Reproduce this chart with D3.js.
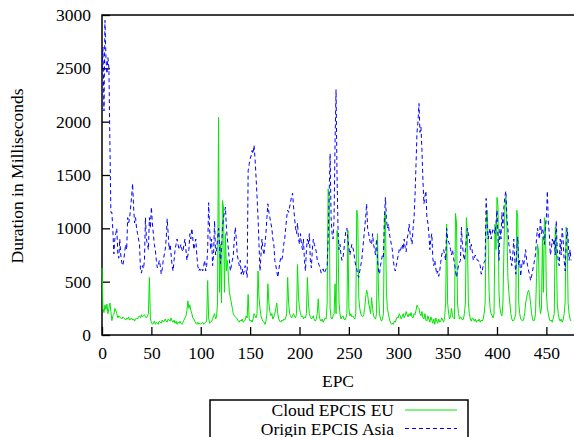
<!DOCTYPE html>
<html>
<head>
<meta charset="utf-8">
<script src="https://cdn.jsdelivr.net/npm/d3@7/dist/d3.min.js"></script>
<style>
  html, body { margin: 0; padding: 0; background: #fff; }
  #chartView { width: 574px; height: 437px; }
</style>
</head>
<body>
<div id="chartView"></div>
<script>
// Duration per EPC, milliseconds (index = EPC number)
var seriesNames = ['Cloud EPCIS EU', 'Origin EPCIS Asia'];
var xTicks = [0, 50, 100, 150, 200, 250, 300, 350, 400, 450];
var yTicks = [0, 500, 1000, 1500, 2000, 2500, 3000];

var cloudEU = [
  630, 250, 210, 280, 240, 290, 200, 250, 300, 220,
  135, 180, 190, 250, 230, 200, 160, 180, 170, 160,
  150, 170, 160, 150, 140, 160, 150, 170, 140, 150,
  160, 140, 150, 130, 150, 160, 150, 170, 180, 160,
  190, 170, 180, 190, 170, 160, 180, 200, 540, 150,
  120, 100, 110, 130, 100, 120, 110, 100, 130, 120,
  110, 140, 120, 130, 150, 130, 120, 150, 140, 130,
  160, 130, 120, 140, 110, 130, 100, 120, 110, 130,
  110, 100, 120, 140, 160, 180, 230, 320, 250, 280,
  230, 200, 160, 150, 130, 110, 100, 120, 100, 110,
  100, 110, 120, 100, 110, 120, 130, 510, 160, 110,
  120, 130, 150, 180, 200, 150, 170, 300, 2040, 400,
  850, 300, 1260, 1200, 400, 950, 600, 700, 550, 400,
  350, 300, 250, 200, 180, 170, 160, 150, 130, 120,
  140, 130, 150, 120, 130, 140, 180, 160, 380, 150,
  130, 140, 120, 150, 200, 180, 160, 200, 600, 350,
  250, 180, 150, 130, 120, 100, 130, 200, 480, 300,
  220, 180, 200, 150, 170, 200, 250, 300, 200, 150,
  130, 120, 140, 130, 150, 140, 160, 200, 540, 300,
  200, 180, 160, 180, 200, 170, 160, 200, 660, 350,
  250, 200, 170, 180, 150, 170, 160, 200, 540, 300,
  200, 170, 150, 160, 180, 140, 130, 150, 200, 340,
  180, 140, 130, 150, 120, 140, 160, 150, 300, 1370,
  1300, 250, 160, 150, 180, 200, 480, 200, 980, 900,
  300, 200, 150, 170, 180, 150, 140, 160, 200, 980,
  250, 180, 200, 170, 180, 160, 150, 200, 1170, 1100,
  350, 250, 200, 180, 170, 190, 250, 350, 420, 380,
  300, 250, 200, 350, 250, 180, 160, 150, 200, 950,
  400, 200, 150, 130, 150, 200, 1100, 1150, 400, 250,
  200, 150, 120, 100, 110, 100, 130, 120, 150, 170,
  160, 200, 180, 150, 170, 200, 160, 180, 220, 190,
  170, 200, 180, 210, 170, 160, 200, 190, 230, 280,
  260, 250, 200, 180, 220, 160, 150, 200, 140, 130,
  180, 150, 120, 170, 140, 110, 150, 100, 160, 130,
  110, 150, 120, 130, 160, 140, 120, 170, 300, 1040,
  300, 200, 150, 180, 250, 170, 160, 150, 1140, 1050,
  300, 200, 150, 170, 160, 140, 150, 200, 300, 1100,
  950, 300, 200, 150, 130, 160, 150, 130, 150, 120,
  140, 130, 150, 120, 140, 130, 150, 200, 300, 1040,
  1170, 900, 400, 250, 200, 180, 160, 200, 1040, 800,
  1290, 1200, 400, 250, 200, 180, 300, 800, 1200, 1290,
  1000, 540, 400, 300, 200, 150, 130, 140, 160, 200,
  1170, 1100, 300, 200, 150, 140, 130, 150, 200, 300,
  350, 400, 420, 380, 300, 200, 150, 130, 140, 200,
  540, 850, 800, 300, 200, 250, 920, 400, 1100, 1050,
  400, 250, 200, 150, 130, 140, 120, 160, 200, 1010,
  900, 300, 200, 150, 130, 150, 120, 140, 200, 300,
  1010, 950, 300, 200, 150, 130
];

var originAsia = [
  2500, 2700, 2100, 2950, 2600, 2450, 2600, 2500, 1800, 1150,
  1150, 980, 760, 900, 950, 1000, 760, 720, 900, 750,
  680, 650, 700, 780, 850, 800, 1100, 1050, 1100, 1200,
  1300, 1420, 1200, 1050, 1100, 1000, 950, 900, 850, 600,
  580, 650, 620, 700, 1100, 900, 850, 800, 1100, 1000,
  1200, 1050, 950, 850, 800, 700, 630, 650, 700, 650,
  570, 620, 700, 750, 800, 900, 1090, 950, 800, 850,
  750, 650, 600, 700, 800, 850, 900, 850, 800, 820,
  850, 800, 780, 850, 900, 800, 700, 750, 800, 950,
  900, 1000, 900, 800, 850, 900, 750, 650, 600, 620,
  600, 620, 600, 650, 700, 600, 650, 800, 1240, 1000,
  800, 900, 650, 760, 1070, 750, 800, 900, 1000, 850,
  670, 800, 1000, 1100, 1150, 1200, 1000, 900, 800, 700,
  600, 650, 700, 750, 900, 1010, 900, 750, 700, 650,
  700, 570, 620, 560, 600, 650, 600, 540, 1540, 1600,
  1650, 1680, 1730, 1700, 1780, 1650, 1480, 1300, 1100, 850,
  600, 750, 900, 800, 750, 850, 950, 1100, 1230, 1150,
  1100, 1050, 1000, 900, 850, 700, 650, 600, 540, 600,
  680, 720, 700, 750, 850, 900, 1000, 1100, 1170, 1150,
  1200, 1250, 1300, 1330, 1200, 1100, 1000, 950, 1050, 900,
  850, 950, 850, 800, 900, 700, 600, 800, 900, 850,
  950, 700, 630, 800, 900, 850, 820, 780, 700, 680,
  650, 620, 580, 600, 620, 580, 600, 620, 650, 900,
  1300, 1700, 1100, 950, 900, 1100, 1800, 2300, 1500, 1000,
  800, 850, 750, 700, 720, 800, 900, 980, 1000, 900,
  820, 750, 800, 850, 820, 780, 700, 650, 620, 560,
  540, 600, 650, 700, 800, 900, 1000, 1100, 1230, 1000,
  950, 900, 850, 850, 950, 850, 800, 750, 900, 700,
  600, 570, 650, 700, 750, 730, 1100, 1290, 1100, 1000,
  1040, 950, 900, 850, 800, 700, 630, 600, 650, 700,
  750, 800, 780, 820, 850, 800, 900, 820, 780, 900,
  950, 1040, 950, 900, 850, 1000, 1100, 1310, 1600, 1900,
  2000, 2170, 1900, 1950, 1730, 1450, 1230, 1300, 1350, 1100,
  1050, 950, 800, 900, 950, 720, 650, 700, 630, 570,
  600, 550, 600, 680, 750, 780, 800, 750, 700, 1000,
  900, 870, 850, 800, 750, 800, 720, 670, 600, 540,
  600, 650, 680, 700, 1010, 850, 750, 700, 800, 900,
  1000, 950, 900, 800, 850, 780, 700, 720, 750, 730,
  700, 700, 680, 650, 570, 600, 650, 680, 700, 1280,
  1050, 900, 950, 1000, 900, 950, 1000, 980, 950, 1050,
  1170, 900, 700, 1000, 900, 1150, 1000, 1200, 1300, 1350,
  1100, 1000, 850, 800, 700, 650, 750, 900, 700, 570,
  800, 920, 650, 700, 550, 650, 700, 650, 720, 800,
  700, 650, 600, 570, 510, 550, 600, 650, 700, 760,
  900, 1000, 950, 900, 1100, 950, 1000, 950, 850, 1000,
  1100, 1350, 1050, 950, 750, 800, 900, 850, 900, 750,
  1070, 800, 700, 650, 900, 750, 1000, 900, 700, 600,
  850, 1000, 900, 700, 800, 700
];

function DurationChart(options) {
    var self = this;
    self.element = options.element;
    self.d3Ele = d3.select(options.element);
    self.settings = {
        width: 574,
        height: 437,
        plot: { left: 102, top: 15, right: 576, bottom: 335 },
        font: '"Liberation Serif", "Times New Roman", serif',
        fontSize: 17.5,
        colors: ['#00e600', '#0000ff']
    };
}

DurationChart.prototype = {
    init: function () {
        this._initChart();
        this._drawAxes();
        this._drawLines();
        this._drawLegend();
    },
    _initChart: function () {
        var self = this, s = self.settings;
        self.svg = self.d3Ele.append('svg')
            .attr('width', s.width)
            .attr('height', s.height)
            .style('font-family', s.font);
        self.xScale = d3.scaleLinear().domain([0, 480]).range([s.plot.left, s.plot.right]);
        self.yScale = d3.scaleLinear().domain([0, 3000]).range([s.plot.bottom, s.plot.top]);
    },
    _drawAxes: function () {
        var self = this, s = self.settings;

        var yAxis = d3.axisLeft(self.yScale).tickValues(yTicks)
            .tickSize(-8).tickPadding(11).tickFormat(d3.format('d'));
        var gy = self.svg.append('g')
            .attr('transform', 'translate(' + s.plot.left + ',0)')
            .call(yAxis);

        var xAxis = d3.axisBottom(self.xScale).tickValues(xTicks)
            .tickSize(-8).tickPadding(12).tickFormat(d3.format('d'));
        var gx = self.svg.append('g')
            .attr('transform', 'translate(0,' + s.plot.bottom + ')')
            .call(xAxis);

        [gx, gy].forEach(function (g) {
            g.attr('font-family', s.font).attr('font-size', s.fontSize);
            g.select('.domain').remove();
            g.selectAll('.tick line').attr('stroke', '#000').attr('stroke-width', 1.3);
            g.selectAll('.tick text').attr('fill', '#000');
        });

        // frame
        self.svg.append('rect')
            .attr('x', s.plot.left).attr('y', s.plot.top)
            .attr('width', s.plot.right - s.plot.left)
            .attr('height', s.plot.bottom - s.plot.top)
            .attr('fill', 'none').attr('stroke', '#000').attr('stroke-width', 1.5);

        self.svg.append('text')
            .attr('x', (s.plot.left + s.plot.right) / 2 - 1)
            .attr('y', 387)
            .attr('text-anchor', 'middle')
            .attr('font-size', s.fontSize)
            .text('EPC');

        self.svg.append('text')
            .attr('transform', 'translate(23,176) rotate(-90)')
            .attr('text-anchor', 'middle')
            .attr('font-size', s.fontSize)
            .text('Duration in Milliseconds');
    },
    _drawLines: function () {
        var self = this, s = self.settings;
        var line = d3.line()
            .x(function (d, i) { return self.xScale(i); })
            .y(function (d) { return self.yScale(d); });

        self.svg.append('path').datum(cloudEU)
            .attr('d', line)
            .attr('fill', 'none')
            .attr('stroke', s.colors[0])
            .attr('stroke-width', 1);

        self.svg.append('path').datum(originAsia)
            .attr('d', line)
            .attr('fill', 'none')
            .attr('stroke', s.colors[1])
            .attr('stroke-width', 1)
            .attr('stroke-dasharray', '4,3');
    },
    _drawLegend: function () {
        var self = this, s = self.settings;
        var lg = self.svg.append('g').attr('class', 'legend');
        lg.append('rect')
            .attr('x', 210).attr('y', 400)
            .attr('width', 258).attr('height', 45)
            .attr('fill', '#fff').attr('stroke', '#000').attr('stroke-width', 1.5);

        var rows = lg.selectAll('.row').data(seriesNames).enter()
            .append('g').attr('class', 'row')
            .attr('transform', function (d, i) { return 'translate(0,' + (410 + i * 18.5) + ')'; });

        rows.append('text')
            .attr('x', 394).attr('y', 6)
            .attr('text-anchor', 'end')
            .attr('font-size', s.fontSize)
            .text(function (d) { return d; });

        rows.append('line')
            .attr('x1', 405).attr('x2', 457)
            .attr('y1', 0).attr('y2', 0)
            .attr('stroke', function (d, i) { return s.colors[i]; })
            .attr('stroke-width', 1)
            .attr('stroke-dasharray', function (d, i) { return i ? '4,3' : null; });
    }
};

var chart = new DurationChart({ element: document.getElementById('chartView') });
chart.init();
</script>
</body>
</html>
